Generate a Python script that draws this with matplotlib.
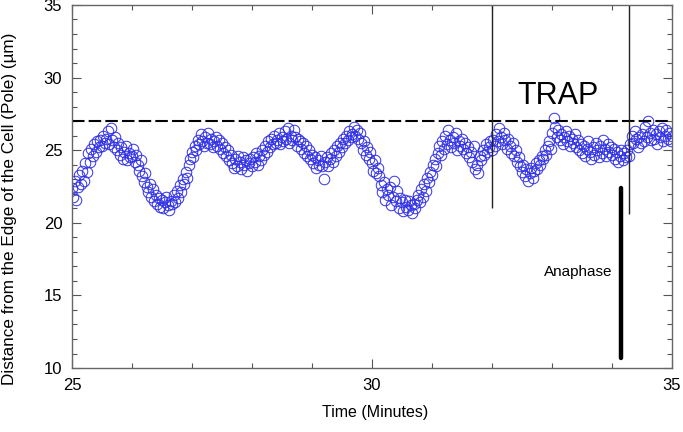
import numpy as np
import matplotlib
matplotlib.use("Agg")
import matplotlib.pyplot as plt
from matplotlib.ticker import MultipleLocator

# pole distance (um), one reading every 0.025 min starting at 25 min
t_start = 25.0
t_step = 0.025
dist = [
    22.4, 21.8, 22.9, 21.6, 22.5, 23.3, 22.7, 23.6, 22.9, 24.1, 23.5, 24.8, 24.2, 25.1, 24.6, 25.4, 24.9, 25.6, 25.2, 25.7,
    25.3, 26.0, 25.5, 25.8, 26.3, 25.4, 26.5, 25.7, 25.2, 25.9, 25.0, 25.5, 24.7, 25.2, 24.4, 24.9, 25.3, 24.3, 24.8, 24.5,
    24.6, 25.1, 24.2, 24.7, 24.0, 23.6, 24.3, 23.2, 22.8, 23.4, 22.5, 22.1, 22.7, 21.8, 22.3, 21.5, 21.9, 21.3, 21.7, 21.1,
    21.6, 21.0, 21.4, 21.8, 21.2, 20.9, 21.5, 21.3, 21.9, 21.4, 22.2, 21.7, 22.6, 22.1, 23.0, 22.7, 23.5, 23.1, 24.0, 24.4,
    24.9, 24.5, 25.3, 25.0, 25.7, 25.4, 26.1, 25.6, 25.3, 25.9, 25.5, 26.2, 25.4, 25.8, 25.2, 25.6, 25.9, 25.3, 25.7, 25.1,
    25.5, 24.8, 25.2, 24.6, 25.0, 24.3, 24.7, 24.1, 23.8, 24.4, 23.9, 24.6, 24.2, 23.7, 24.5, 24.0, 24.3, 23.6, 24.1, 24.4,
    23.9, 24.5, 24.2, 24.8, 24.0, 24.6, 24.3, 25.0, 24.7, 25.3, 24.9, 25.6, 25.2, 25.8, 25.4, 26.0, 25.5, 25.7, 26.2, 25.4,
    25.9, 25.6, 26.3, 25.8, 26.5, 25.5, 26.0, 25.7, 26.4, 25.9, 25.3, 25.8, 25.6, 25.1, 25.5, 24.8, 25.3, 24.6, 25.0, 24.4,
    24.7, 24.1, 24.5, 23.8, 24.3, 24.0, 24.6, 23.9, 23.0, 24.2, 24.5, 23.9, 24.4, 24.8, 24.2, 25.0, 24.6, 25.3, 24.9, 25.5,
    25.2, 25.8, 25.5, 26.0, 25.7, 26.3, 25.9, 26.1, 26.6, 26.0, 26.4, 25.8, 26.2, 25.5, 25.0, 25.6, 24.7, 25.2, 24.4, 24.9,
    24.1, 23.6, 24.3, 23.4, 23.8, 23.2, 22.6, 22.1, 22.8, 21.6, 22.3, 21.9, 22.5, 21.2, 21.8, 22.9, 21.5, 22.2, 21.0, 21.7,
    21.4, 20.8, 21.6, 21.1, 20.9, 21.5, 21.2, 20.7, 21.3, 21.0, 21.6, 21.9, 21.4, 22.3, 21.8, 22.7, 22.2, 23.1, 22.8, 23.5,
    23.3, 24.0, 24.4, 23.9, 24.8, 25.3, 24.7, 25.6, 25.1, 26.0, 25.4, 26.4, 25.7, 25.2, 25.9, 25.5, 26.2, 25.0, 25.6, 25.3,
    25.8, 25.1, 25.5, 24.8, 25.2, 24.5, 24.9, 24.2, 25.3, 23.7, 24.0, 23.4, 24.6, 24.3, 25.0, 24.7, 25.4, 24.9, 25.2, 25.6,
    25.0, 25.7, 25.3, 26.1, 25.6, 26.5, 25.9, 25.4, 26.2, 25.7, 25.1, 25.8, 25.3, 24.8, 25.5, 24.6, 25.0, 24.2, 24.5, 23.9,
    23.5, 24.0, 23.2, 23.7, 22.9, 23.4, 23.8, 23.1, 23.6, 24.1, 23.7, 24.3, 24.0, 24.6, 24.4, 25.0, 24.7, 25.3, 25.6, 25.1,
    26.2, 27.2, 26.6, 25.9, 26.4, 25.7, 26.1, 25.4, 25.9, 26.3, 25.6, 26.0, 25.3, 25.8, 25.5, 26.1, 25.2, 25.7, 25.0, 25.4,
    24.8, 25.3, 24.6, 25.1, 25.6, 24.9, 24.4, 25.2, 24.7, 25.5, 25.0, 24.5, 25.3, 24.8, 25.7, 25.1, 24.6, 25.4, 24.9, 25.2,
    24.7, 25.1, 24.4, 24.9, 24.2, 24.6, 25.0, 24.3, 24.8, 24.5, 25.0, 24.6, 25.4, 26.0, 25.5, 26.3, 25.8, 25.2, 25.9, 25.5,
    26.1, 25.6, 26.6, 25.9, 27.0, 26.2, 25.7, 26.4, 25.8, 26.1, 25.4, 26.3, 25.9, 26.5, 25.6, 26.0, 26.4, 25.8, 26.2, 25.6,
    26.0,
]
time = t_start + t_step * np.arange(len(dist))

trap_level = 27.0
trap_start, trap_start_bottom = 32.0, 21.0
trap_end, trap_end_bottom = 34.28, 20.6
anaphase_t, anaphase_lo, anaphase_hi = 34.15, 10.7, 22.4

plt.rcParams['font.family'] = ['Liberation Sans Narrow', 'Liberation Sans', 'DejaVu Sans']

fig = plt.figure(figsize=(6.83, 4.32), dpi=100)
ax = fig.add_axes([0.1054, 0.148, 0.8785, 0.8405])

ax.plot(time, dist, 'o', mfc='none', mec='#3030e8', ms=7.6, mew=0.7)

ax.axhline(trap_level, color='black', lw=1.5, dashes=(6, 2))
ax.vlines(trap_start, trap_start_bottom, 35, color='#222222', lw=1.0)
ax.vlines(trap_end, trap_end_bottom, 35, color='#222222', lw=1.0)
ax.plot([anaphase_t, anaphase_t], [anaphase_lo, anaphase_hi], color='black', lw=3.2,
        solid_capstyle='round')

ax.text(33.1, 28.7, 'TRAP', fontsize=22, ha='center', va='center',
        family=['Liberation Sans', 'DejaVu Sans'])
ax.text(33.43, 16.6, 'Anaphase', fontsize=11, ha='center', va='center')

ax.set_xlim(25, 35)
ax.set_ylim(10, 35)
ax.xaxis.set_major_locator(MultipleLocator(5))
ax.xaxis.set_minor_locator(MultipleLocator(1))
ax.yaxis.set_major_locator(MultipleLocator(5))
ax.yaxis.set_minor_locator(MultipleLocator(1))
ax.tick_params(which='both', direction='in', top=True, right=True, color='#555555',
               width=0.8, labelsize=12)
ax.tick_params(which='major', length=6.5, pad=7)
ax.tick_params(which='minor', length=3.6)
for s in ax.spines.values():
    s.set_color('#666666')
    s.set_linewidth(1.0)

fig.text(375 / 683, 1 - 413 / 432, 'Time (Minutes)', fontsize=11.5, ha='center', va='center')
fig.text(10 / 683, 1 - 209 / 432, 'Distance from the Edge of the Cell (Pole) (\u00b5m)',
         fontsize=12.3, rotation=90, ha='center', va='center',
         family=['Liberation Sans', 'DejaVu Sans'])

fig.savefig('out.png', dpi=100)
